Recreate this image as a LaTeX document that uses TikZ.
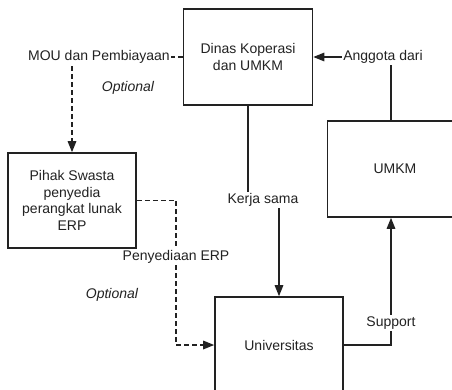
\documentclass[tikz,border=0pt]{standalone}
\usepackage{fontspec}
\setmainfont{Liberation Sans}
\usetikzlibrary{arrows.meta}
\definecolor{ink}{HTML}{222222}
\tikzset{
  box/.style={draw=ink, line width=1.6pt, inner sep=0pt, align=center, text=ink,
    font=\fontsize{14}{16.7}\selectfont},
  conn/.style={draw=ink, line width=1.5pt, -{Triangle[length=11pt,width=8.5pt]}},
  dconn/.style={conn, dash pattern=on 5pt off 3pt},
  lbl/.style={fill=white, inner sep=1.5pt, text=ink, font=\fontsize{14}{16.7}\selectfont},
  opt/.style={text=ink, font=\fontsize{14}{16.7}\selectfont\itshape}
}
\begin{document}
\begin{tikzpicture}[x=1pt,y=-1pt]
\clip (0,0) rectangle (452,389);
\fill[white] (0,0) rectangle (452,389);
% boxes
\node[box, minimum width=129pt, minimum height=96pt] (dinas) at (248,57) {Dinas Koperasi\\dan UMKM};
\node[box, minimum width=128pt, minimum height=95pt] (pihak) at (72,200.5) {Pihak Swasta\\penyedia\\perangkat lunak\\ERP};
\node[box, minimum width=135pt, minimum height=96pt] (umkm) at (395,169) {UMKM};
\node[box, minimum width=128pt, minimum height=96pt] (univ) at (279,345) {Universitas};
% label positions
\coordinate (kerjaP) at (263,200);
\coordinate (anggP) at (383,57);
\coordinate (mouP) at (99,57);
\coordinate (penyP) at (176,257);
\coordinate (suppP) at (391,323);
% connectors
\draw[conn] (dinas.south) |- (kerjaP) -| (univ.north);
\draw[conn] ([xshift=-4pt]umkm.north) |- (dinas.east);
\draw[dconn] (dinas.west) -| (pihak.north);
\draw[dconn] (pihak.east) -| (penyP) |- (univ.west);
\draw[conn] (univ.east) -| ([xshift=-4pt]umkm.south);
% labels
\node[lbl] (kerja) at (kerjaP) {Kerja sama};
\node[lbl] (angg) at (anggP) {Anggota dari};
\node[lbl] (mou) at (mouP) {MOU dan Pembiayaan};
\node[lbl] (peny) at (penyP) {Penyediaan ERP};
\node[lbl] (supp) at (suppP) {Support};
\node[opt] (opt1) at (128,88) {Optional};
\node[opt] (opt2) at (112,295) {Optional};
\end{tikzpicture}
\end{document}
